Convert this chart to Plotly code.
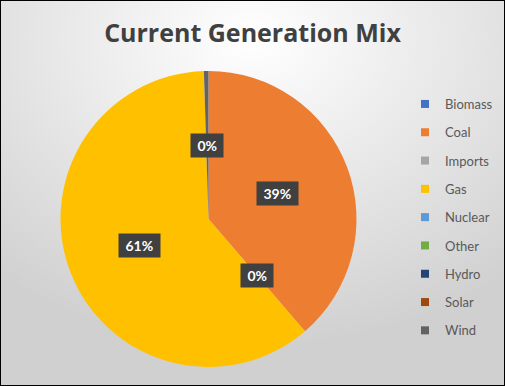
import base64
import math
import plotly.graph_objects as go

# ---- data ----
categories = ["Biomass", "Coal", "Imports", "Gas", "Nuclear", "Other", "Hydro", "Solar", "Wind"]
shares = [0.0, 38.7, 0.0, 60.8, 0.0, 0.0, 0.0, 0.0, 0.5]
label_text = ["", "39%", "0%", "61%", "", "", "", "", "0%"]
colors = ["#4472C4", "#ED7D31", "#A5A5A5", "#FFC000", "#5B9BD5",
          "#70AD47", "#264478", "#9E480E", "#636363"]
title_text = "Current Generation Mix"

W, H = 505, 386
# pie geometry in pixels
cx, cy, R = 208.5, 219.0, 148.0
dom_x = [(cx - R) / W, (cx + R) / W]
dom_y = [1 - (cy + R) / H, 1 - (cy - R) / H]

fig = go.Figure()
fig.add_trace(go.Pie(
    labels=categories, values=shares, sort=False, direction="clockwise",
    rotation=0, marker=dict(colors=colors, line=dict(width=0)),
    textinfo="none", showlegend=False, hoverinfo="label+percent",
    domain=dict(x=dom_x, y=dom_y),
))

# legend entries
for name, col in zip(categories, colors):
    fig.add_trace(go.Scatter(
        x=[None], y=[None], mode="markers", name=name, legendgroup=name,
        marker=dict(symbol="square", size=8, color=col),
    ))

# data labels positioned from the slice angles
total = sum(shares)
cum = 0.0
for v, t in zip(shares, label_text):
    mid = (cum + v / 2) / total * 2 * math.pi
    cum += v
    if not t:
        continue
    r = 0.5 * R
    px = cx + r * math.sin(mid)
    py = cy - r * math.cos(mid)
    fig.add_annotation(
        x=px / W, y=1 - py / H, xref="paper", yref="paper",
        text=f"<b>&nbsp;{t}&nbsp;</b>",
        showarrow=False, xanchor="center", yanchor="middle",
        font=dict(family="Lato", size=14, color="white"),
        bgcolor="#404040", borderpad=3,
    )

svg = f'''<svg xmlns="http://www.w3.org/2000/svg" width="{W}" height="{H}">
<defs><radialGradient id="g" cx="0.5" cy="0.1" r="0.8">
<stop offset="0" stop-color="#ffffff"/><stop offset="1" stop-color="#d0d0d0"/>
</radialGradient></defs><rect width="{W}" height="{H}" fill="url(#g)"/></svg>'''
src = "data:image/svg+xml;base64," + base64.b64encode(svg.encode()).decode()

fig.update_layout(
    width=W, height=H, margin=dict(l=0, r=0, t=0, b=0),
    paper_bgcolor="#d9d9d9", plot_bgcolor="rgba(0,0,0,0)",
    title=dict(text=f"<b>{title_text}</b>", x=0.5, xanchor="center",
               y=1 - 33 / H, yanchor="middle",
               font=dict(family="Open Sans", size=25, color="#404040")),
    xaxis=dict(visible=False), yaxis=dict(visible=False),
    legend=dict(x=0.802, xanchor="left", y=1 - 89 / H, yanchor="top",
                font=dict(family="Lato", size=13, color="#595959"),
                tracegroupgap=8.4, bgcolor="rgba(0,0,0,0)", itemwidth=30),
    images=[dict(source=src, xref="paper", yref="paper", x=0, y=1, sizex=1, sizey=1,
                 xanchor="left", yanchor="top", sizing="stretch", layer="below")],
    shapes=[dict(type="rect", xref="paper", yref="paper", x0=0, y0=0, x1=1, y1=1,
                 line=dict(color="black", width=2))],
)

fig.write_html("out.html", config={"displayModeBar": False},
               post_script="document.body.style.margin='0';document.body.style.overflow='hidden';")
